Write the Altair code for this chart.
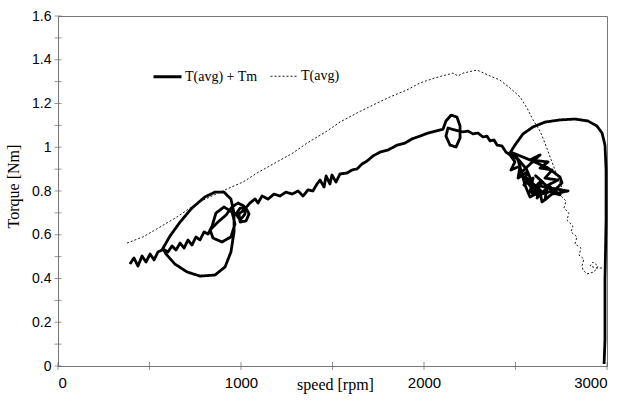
import altair as alt
import pandas as pd

# Torque vs speed during run-up: averaged torque plus mechanical torque (thick)
rpm_tm = [393, 415, 437, 459, 481, 503, 525, 546, 568,
          612, 667, 732, 803, 858, 907, 945, 962, 962, 945, 913, 858, 776, 705, 639, 590, 574,
          601, 623, 645, 667, 689, 710, 732, 754, 776, 798, 820,
          842, 863, 907, 951, 967, 945, 896, 847, 831,
          874, 918, 951, 984, 1016, 1022, 995, 973, 995, 1027, 1044, 1027, 995, 989, 1016,
          1049, 1077, 1093, 1115, 1148, 1180, 1213, 1246, 1279, 1312, 1339, 1366, 1393, 1415,
          1432, 1454, 1465, 1486, 1497, 1519, 1541, 1579, 1607, 1634, 1661, 1689, 1721, 1760,
          1803, 1853, 1896, 1934, 1978, 2022, 2066, 2104,
          2120, 2148, 2180, 2197, 2197, 2175, 2142, 2120, 2131, 2169, 2213,
          2240, 2268, 2295, 2322, 2344, 2361, 2383, 2399, 2426, 2448, 2470,
          2497, 2475, 2525, 2514, 2563, 2546, 2596, 2579, 2634, 2618, 2672, 2661, 2705, 2743,
          2678, 2732, 2661, 2700, 2634, 2678, 2579, 2634,
          2525, 2600, 2560, 2640, 2590, 2650, 2610, 2700, 2620, 2560,
          2486, 2579, 2678, 2743, 2754, 2716, 2661, 2596, 2552, 2607, 2689, 2787, 2700, 2645,
          2634, 2579, 2552, 2514, 2470,
          2497, 2541, 2596, 2661, 2743, 2825, 2896, 2945, 2973, 2989, 2995, 2995, 2989, 2989, 2984]
nm_tm = [0.466, 0.494, 0.457, 0.503, 0.475, 0.512, 0.485, 0.521, 0.530,
         0.594, 0.658, 0.722, 0.773, 0.795, 0.795, 0.763, 0.699, 0.613, 0.521, 0.453, 0.416,
         0.411, 0.430, 0.466, 0.512, 0.535,
         0.521, 0.549, 0.530, 0.562, 0.539, 0.576, 0.553, 0.590, 0.576, 0.613, 0.603,
         0.640, 0.699, 0.727, 0.704, 0.649, 0.590, 0.567, 0.585, 0.622,
         0.658, 0.690, 0.727, 0.745, 0.731, 0.695, 0.667, 0.695, 0.722, 0.722, 0.695, 0.663,
         0.658, 0.695, 0.713,
         0.745, 0.764, 0.745, 0.777, 0.763, 0.786, 0.777, 0.795, 0.786, 0.800, 0.777, 0.805,
         0.800, 0.832, 0.850, 0.818, 0.869, 0.832, 0.873, 0.841, 0.878, 0.882, 0.896, 0.901,
         0.923, 0.937, 0.960, 0.978, 0.987, 1.010, 1.019, 1.038, 1.051, 1.065, 1.074, 1.083,
         1.120, 1.147, 1.138, 1.097, 1.042, 1.001, 1.010, 1.051, 1.088, 1.079, 1.070,
         1.074, 1.061, 1.065, 1.047, 1.051, 1.029, 1.033, 1.010, 1.006, 0.978, 0.965,
         0.933, 0.896, 0.914, 0.859, 0.887, 0.827, 0.859, 0.795, 0.841, 0.768, 0.814, 0.759,
         0.791, 0.782, 0.827, 0.850, 0.859, 0.896, 0.905, 0.933, 0.942, 0.965,
         0.880, 0.820, 0.860, 0.800, 0.790, 0.840, 0.870, 0.800, 0.780, 0.900,
         0.974, 0.942, 0.905, 0.864, 0.837, 0.805, 0.791, 0.809, 0.850, 0.827, 0.814, 0.800,
         0.786, 0.750, 0.795, 0.773, 0.827, 0.942, 0.974,
         1.010, 1.061, 1.093, 1.115, 1.125, 1.129, 1.120, 1.097, 1.065, 1.010, 0.896, 0.667,
         0.393, 0.119, 0.009]

# Averaged torque only (thin dotted)
rpm_avg = [377, 464, 557, 650, 760, 885, 1011, 1087, 1186, 1284, 1361, 1470, 1541, 1634,
           1721, 1814, 1907, 1978, 2060, 2158, 2186, 2213, 2290, 2361, 2415, 2470, 2525,
           2563, 2596, 2634, 2661, 2689, 2716, 2743, 2760, 2749, 2776, 2765, 2792, 2781,
           2814, 2803, 2836, 2825, 2858, 2847, 2874, 2863, 2869, 2891, 2929, 2951, 2923,
           2907, 2940, 2978]
nm_avg = [0.562, 0.590, 0.635, 0.681, 0.745, 0.795, 0.841, 0.882, 0.928, 0.974, 1.019,
          1.074, 1.115, 1.157, 1.193, 1.230, 1.262, 1.294, 1.317, 1.339, 1.326, 1.339,
          1.353, 1.326, 1.307, 1.271, 1.230, 1.179, 1.125, 1.074, 1.019, 0.955, 0.896,
          0.837, 0.805, 0.777, 0.754, 0.722, 0.699, 0.667, 0.640, 0.613, 0.590, 0.558,
          0.539, 0.507, 0.489, 0.457, 0.439, 0.421, 0.430, 0.457, 0.475, 0.457, 0.448, 0.448]

series_names = ["T(avg) + Tm", "T(avg)"]
x_tick_values = [0, 500, 1000, 1500, 2000, 2500, 3000]
y_label_values = [0, 0.2, 0.4, 0.6, 0.8, 1.0, 1.2, 1.4, 1.6]
y_tick_values = [0, 0.1, 0.2, 0.3, 0.4, 0.5, 0.6, 0.7, 0.8, 0.9, 1.0,
                 1.1, 1.2, 1.3, 1.4, 1.5, 1.6]

assert len(rpm_tm) == len(nm_tm) and len(rpm_avg) == len(nm_avg)

rows = []
for name, xs, ys in [(series_names[0], rpm_tm, nm_tm), (series_names[1], rpm_avg, nm_avg)]:
    for i, (x, y) in enumerate(zip(xs, ys)):
        rows.append({"series": name, "step": i, "speed": x, "torque": y})
df = pd.DataFrame(rows)

x_scale = alt.Scale(domain=[0, 3000], nice=False, zero=False)
y_scale = alt.Scale(domain=[0, 1.6], nice=False)

x_axis = alt.Axis(
    values=x_tick_values, format="d",
    labelExpr="datum.value % 1000 == 0 ? datum.label : ''",
    ticks=False, tickSize=0, labelPadding=9, labelFontSize=15,
    title="speed [rpm]", titleX=277, titleY=23, titleBaseline="alphabetic",
    titleAnchor="start", titleAlign="center")
y_axis = alt.Axis(
    values=y_label_values, format="~g", ticks=False, tickSize=0, labelPadding=7,
    title="Torque [Nm]", titleX=-45, titleY=170, titleAngle=270,
    titleBaseline="middle", titleAlign="center")

legend = alt.Legend(
    title=None, orient="none", legendX=94, legendY=45, direction="horizontal",
    symbolType="stroke", symbolSize=784, labelFont="Liberation Serif",
    labelFontSize=14, labelColor="#000", labelOffset=2, columnPadding=10, padding=0,
)

lines = alt.Chart(df).mark_line(strokeJoin="round", strokeCap="butt").encode(
    x=alt.X("speed:Q", scale=x_scale, axis=x_axis),
    y=alt.Y("torque:Q", scale=y_scale, axis=y_axis),
    color=alt.Color("series:N", scale=alt.Scale(domain=series_names, range=["#000000", "#1a1a1a"]),
                    legend=legend),
    strokeDash=alt.StrokeDash("series:N", scale=alt.Scale(domain=series_names, range=[[1, 0], [2, 2]]),
                              legend=legend),
    strokeWidth=alt.StrokeWidth("series:N", scale=alt.Scale(domain=series_names, range=[2.8, 1.0]),
                                legend=legend),
    order="step:Q",
    detail="series:N",
)

# small cross ticks straddling both axis lines
x_ticks = alt.Chart(pd.DataFrame({"speed": x_tick_values})).mark_tick(
    color="#666", thickness=1, size=8).encode(
    x=alt.X("speed:Q", scale=x_scale, axis=x_axis), y=alt.value(350))

y_ticks = alt.Chart(pd.DataFrame({"torque": y_tick_values})).mark_tick(
    color="#666", thickness=1, size=7).encode(
    y=alt.Y("torque:Q", scale=y_scale, axis=y_axis), x=alt.value(0))

chart = alt.layer(lines, x_ticks, y_ticks).properties(
    width=549, height=350,
    autosize=alt.AutoSizeParams(type="none"),
    padding={"left": 58, "top": 16, "right": 19, "bottom": 35},
    background="white",
).configure_view(
    stroke="#777", strokeWidth=1,
).configure_axis(
    domainColor="#777", domainWidth=1, grid=False,
    labelFont="Liberation Sans", labelFontSize=14, labelColor="#000",
    titleFont="Liberation Serif", titleFontSize=16, titleFontWeight="normal", titleColor="#000",
)

chart.save("out.html", embed_options={"renderer": "svg", "actions": False})
